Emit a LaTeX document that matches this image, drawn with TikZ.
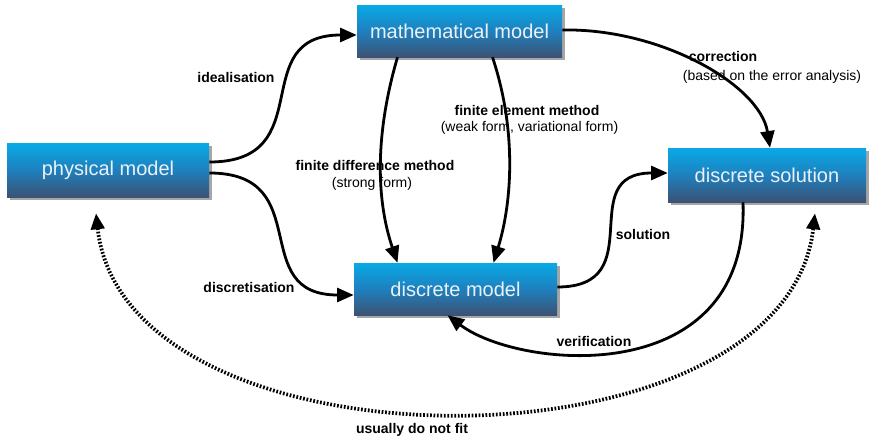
\documentclass[tikz,border=0pt]{standalone}
\usepackage{fontspec}
\setmainfont{Liberation Sans}
\usetikzlibrary{arrows.meta,calc,shadows}

\definecolor{boxtop}{RGB}{8,170,230}
\definecolor{boxmid}{RGB}{30,128,190}
\definecolor{boxbot}{RGB}{60,82,116}
\definecolor{boxtext}{RGB}{236,241,246}

\tikzset{
  modelbox/.style={rectangle, inner sep=0pt, text=boxtext,
    font=\fontsize{15}{18}\selectfont,
    top color=boxtop, bottom color=boxbot, middle color=boxmid,
    drop shadow={shadow xshift=2.2pt, shadow yshift=-2.2pt, opacity=0.35, fill=black}},
  bigtip/.style={Triangle[length=12.5pt,width=10.5pt]},
  flow/.style={line width=2.1pt, -{Triangle[length=12.5pt,width=10.5pt]}},
  misfit/.style={line width=2.8pt, dash pattern=on 1.3pt off 1.3pt,
    {Triangle[length=12pt,width=10pt]}-{Triangle[length=12pt,width=10pt]}},
  boldlabel/.style={font=\fontsize{10.5}{12}\selectfont\bfseries, inner sep=1pt},
  plainlabel/.style={font=\fontsize{10.5}{12}\selectfont, inner sep=1pt},
}

\begin{document}
\begin{tikzpicture}[x=0.75pt, y=-0.75pt]
  \useasboundingbox (0,0) rectangle (872,443);

  % model boxes
  \node[modelbox, minimum width=151.5pt, minimum height=40.5pt] (phys) at (108,170) {physical model};
  \node[modelbox, minimum width=153.75pt, minimum height=39pt] (math) at (459.5,31) {mathematical model};
  \node[modelbox, minimum width=152.25pt, minimum height=39pt] (dmod) at (455.5,289) {discrete model};
  \node[modelbox, minimum width=148.5pt, minimum height=40.5pt] (dsol) at (767,175) {discrete solution};

  % connectors
  \draw[flow] ($(phys.east)+(0,-8)$) .. controls +(112,0) and +(-112,0) .. ($(math.west)+(0,4)$);
  \draw[flow] ($(phys.east)+(0,3)$) .. controls +(108,0) and +(-108,0) .. ($(dmod.west)+(0,6)$);
  \draw[flow] ($(math.south)+(-62,0)$) .. controls +(-22,75) and +(-22,-65) .. ($(dmod.north)+(-58,0)$);
  \draw[flow] ($(math.south)+(33,0)$) .. controls +(24,72) and +(19,-62) .. ($(dmod.north)+(38,0)$);
  \draw[flow] ($(math.east)+(0,-1)$) .. controls +(98,-2) and +(-10,-63) .. ($(dsol.north)+(3,0)$);
  \draw[flow] ($(dmod.east)+(0,-2)$) .. controls +(95,0) and +(-95,0) .. ($(dsol.west)+(0,-2)$);
  \draw[flow] ($(dsol.south)+(-24,0)$) .. controls +(7,188) and +(73,55) .. ($(dmod.south)+(-8,0)$);
  \draw[misfit] ($(phys.south)+(-12,16)$) .. controls +(29,265) and +(-30,265) .. ($(dsol.south)+(48,11)$);

  % labels
  \node[boldlabel] (lidea) at (236,77) {idealisation};
  \node[boldlabel] (ldisc) at (249,287) {discretisation};
  \node[boldlabel] (lfdm) at (375,165) {finite difference method};
  \node[plainlabel] (lfdmsub) at (372,184) {(strong form)};
  \node[boldlabel] (lfem) at (527,110) {finite element method};
  \node[plainlabel] (lfemsub) at (529.5,128) {(weak form, variational form)};
  \node[boldlabel] (lcorr) at (723,56) {correction};
  \node[plainlabel] (lcorrsub) at (772,77) {(based on the error analysis)};
  \node[boldlabel] (lsol) at (643,234) {solution};
  \node[boldlabel] (lver) at (594,341) {verification};
  \node[boldlabel] (lfit) at (412,430) {usually do not fit};
\end{tikzpicture}
\end{document}
